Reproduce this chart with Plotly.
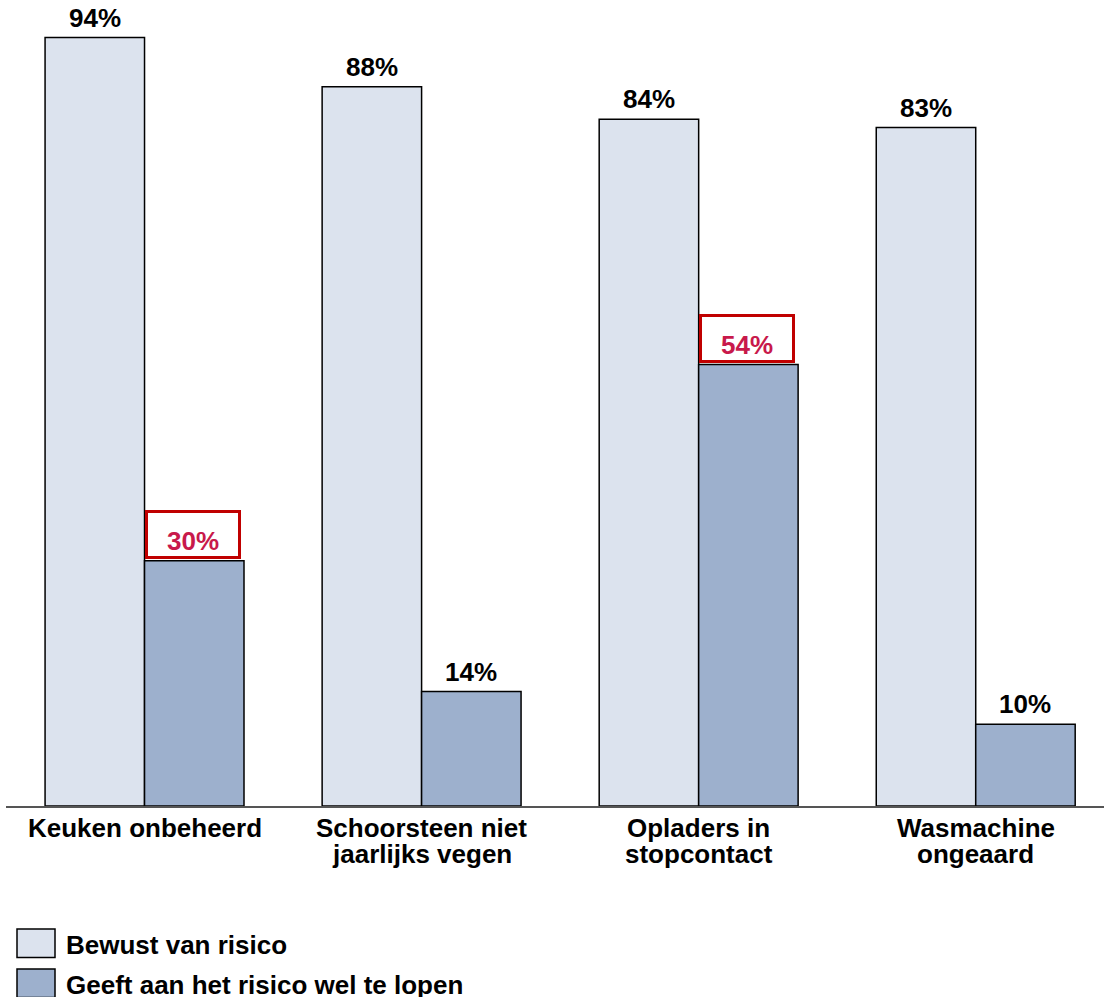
import plotly.graph_objects as go

categories = ["Keuken onbeheerd", "Schoorsteen niet jaarlijks vegen", "Opladers in stopcontact", "Wasmachine ongeaard"]
category_lines = [["Keuken onbeheerd"], ["Schoorsteen niet", "jaarlijks vegen"], ["Opladers in", "stopcontact"], ["Wasmachine", "ongeaard"]]
series_names = ["Bewust van risico", "Geeft aan het risico wel te lopen"]
bewust = [94, 88, 84, 83]
geeft = [30, 14, 54, 10]
highlight_geeft = [True, False, True, False]

W, H = 1104, 997
ML, MR, MT, MB = 6, 0, 0, 191
PW, PH = W - ML - MR, H - MT - MB

LIGHT = "#DCE3EE"
DARK = "#9DB0CD"
FONT = "Liberation Sans, Arial, sans-serif"
FS = 26

def px_x(p):
    return (p - ML) / PW

def px_y(p):
    return (PH + MT - p) / PH

fig = go.Figure()
fig.add_trace(go.Bar(x=categories, y=bewust, name=series_names[0],
                     marker=dict(color=LIGHT, line=dict(color="black", width=1.5))))
fig.add_trace(go.Bar(x=categories, y=geeft, name=series_names[1],
                     marker=dict(color=DARK, line=dict(color="black", width=1.5))))

annotations = []
half = 49.75
for c, v in zip(categories, bewust):
    annotations.append(dict(x=c, y=v, xref="x", yref="y", text=f"{v}%", showarrow=False,
                            xshift=-half, yshift=4, yanchor="bottom", borderpad=0,
                            font=dict(family=FONT, size=FS, color="black", weight="bold")))
for c, v, hl in zip(categories, geeft, highlight_geeft):
    if hl:
        annotations.append(dict(x=c, y=v, xref="x", yref="y", text=f"{v}%", showarrow=False,
                                xshift=half - 1.5, yshift=2, yanchor="bottom", width=90, height=43,
                                valign="bottom", borderpad=0, bordercolor="#C00000", borderwidth=3,
                                bgcolor="white",
                                font=dict(family=FONT, size=FS, color="#C8194B", weight="bold")))
    else:
        annotations.append(dict(x=c, y=v, xref="x", yref="y", text=f"{v}%", showarrow=False,
                                xshift=half, yshift=4, yanchor="bottom", borderpad=0,
                                font=dict(family=FONT, size=FS, color="black", weight="bold")))

# category labels (two lines, tight spacing)
for c, lines in zip(categories, category_lines):
    for i, line in enumerate(lines):
        baseline = 838 + i * 25.5
        annotations.append(dict(x=c, xref="x", y=px_y(baseline + 6), yref="paper", text=line,
                                showarrow=False, yanchor="bottom", borderpad=0,
                                font=dict(family=FONT, size=FS, color="black", weight="bold")))

# legend
shapes = []
leg = [(929, LIGHT, series_names[0]), (969, DARK, series_names[1])]
for top, col, name in leg:
    shapes.append(dict(type="rect", xref="paper", yref="paper",
                       x0=px_x(17), x1=px_x(55), y0=px_y(top + 28.5), y1=px_y(top),
                       line=dict(color="black", width=1.5), fillcolor=col))
    annotations.append(dict(x=px_x(65), xref="paper", y=px_y(top + 26 + 6), yref="paper",
                            text=name, showarrow=False, xanchor="left", yanchor="bottom", borderpad=0,
                            font=dict(family=FONT, size=FS, color="black", weight="bold")))

fig.update_layout(
    width=W, height=H,
    margin=dict(l=ML, r=MR, t=MT, b=MB, pad=0),
    paper_bgcolor="white", plot_bgcolor="white",
    barmode="group", bargap=0.282, bargroupgap=0,
    showlegend=False,
    xaxis=dict(range=[-0.5, 3.463], showline=True, linecolor="#555555", linewidth=2,
               showticklabels=False, ticks="", showgrid=False, zeroline=False, fixedrange=True),
    yaxis=dict(range=[0, 98.6], visible=False, showgrid=False, zeroline=False, fixedrange=True),
    annotations=annotations,
    shapes=shapes,
)

fig.write_html("out.html", config={"displayModeBar": False},
               post_script="document.body.style.margin='0';document.body.style.overflow='hidden';")
